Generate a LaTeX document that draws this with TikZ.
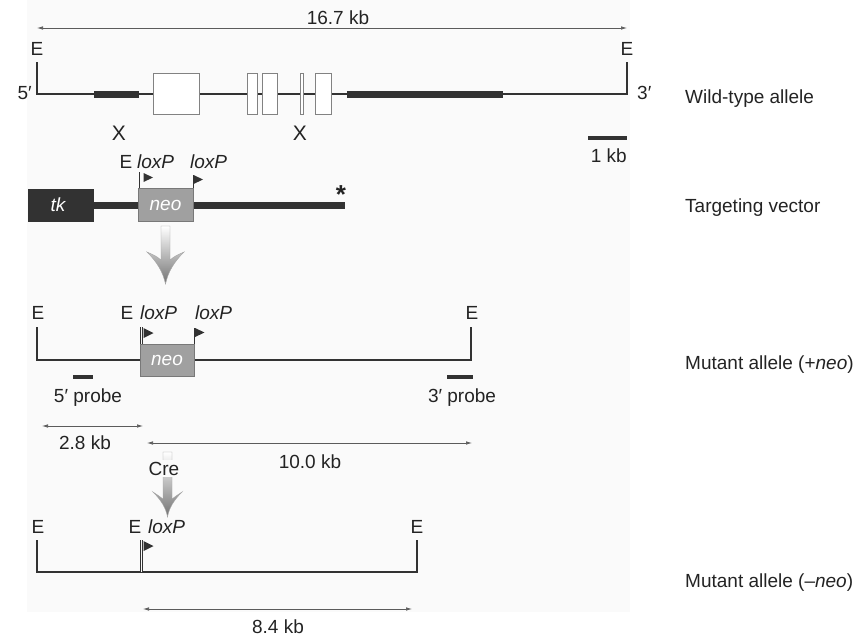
\documentclass[tikz,border=0pt]{standalone}
\usepackage{fontspec}
\setmainfont{Liberation Sans}
\usetikzlibrary{arrows.meta,positioning,calc}
\definecolor{DnaGrey}{RGB}{50,50,50}
\definecolor{TextGrey}{RGB}{35,35,35}
\definecolor{PanelGrey}{RGB}{250,250,250}
\definecolor{NeoGrey}{RGB}{160,160,160}
\definecolor{NeoEdge}{RGB}{120,120,120}
\definecolor{ExonEdge}{RGB}{130,130,130}
\tikzset{
  tag/.style={font=\fontsize{19}{22}\selectfont, text=TextGrey, inner sep=0pt, anchor=base},
  dna/.style={draw=DnaGrey, line width=2pt},
  vecline/.style={draw=DnaGrey, line width=7pt},
  exon/.style={draw=ExonEdge, fill=white, line width=0.8pt},
  tkbox/.style={fill=DnaGrey, minimum width=66pt, minimum height=33pt, inner sep=0pt,
    anchor=center, font=\fontsize{19}{22}\selectfont\itshape, text=white},
  neobox/.style={draw=NeoEdge, fill=NeoGrey, line width=0.8pt, minimum width=55pt,
    minimum height=33pt, inner sep=0pt, anchor=center,
    font=\fontsize{19}{22}\selectfont\itshape, text=white},
  dimarrow/.style={{Latex[length=6pt,width=3.5pt]}-{Latex[length=6pt,width=3.5pt]},
    draw=DnaGrey!80, line width=0.7pt},
  pole/.style={draw=DnaGrey, line width=0.7pt},
  dpole/.style={draw=DnaGrey, line width=0.6pt, double=PanelGrey, double distance=1.2pt},
  flagtip/.style={fill=DnaGrey},
  bigarrow/.style={top color=white, bottom color=black!55, draw=black!35, line width=0.4pt}
}

\begin{document}
\begin{tikzpicture}[x=1pt, y=-1pt]
\useasboundingbox (0,0) rectangle (863,637);
\fill[PanelGrey] (27,0) rectangle (630,612);

% wild-type allele
\node[tag] (wtE1) at (37,55) {E};
\node[tag] (wtE2) at (627,55) {E};
\node[tag, anchor=base east] (wt5) at (32,99) {5′};
\node[tag, anchor=base west] (wt3) at (637,99) {3′};
\coordinate (wtL) at (37,94);
\coordinate (wtR) at (627,94);
\draw[dna] ([yshift=-7pt]wtE1.south) -- (wtL) -- (wtR) -- ([yshift=-7pt]wtE2.south);
\fill[DnaGrey] (94,90.5) rectangle (139,97.5);
\fill[DnaGrey] (347,90.5) rectangle (503,97.5);
\draw[exon] (153,73) rectangle (199,114);
\draw[exon] (247,73) rectangle (257,114);
\draw[exon] (262,73) rectangle (277,114);
\draw[exon] (300,73) rectangle (303,114);
\draw[exon] (315,73) rectangle (331,114);
\node[tag, font=\fontsize{21}{22}\selectfont] (x1) at (119,140) {X};
\node[tag, font=\fontsize{21}{22}\selectfont] (x2) at (300,140) {X};
\node[tag] (wtsize) at (338,24.5) {16.7 kb};
\coordinate (wtA) at (37,28);
\coordinate (wtB) at (627,28);
\draw[dimarrow] (wtA) -- (wtB);
\fill[DnaGrey] (588,135.5) rectangle (627,139.5);
\node[tag, anchor=base east] (scale) at (627,162) {1 kb};
\node[tag, anchor=base west] (wtname) at (685,103) {Wild-type allele};

% targeting vector
\node[tkbox] (tk) at (61,205) {\hspace*{-6pt}tk};
\coordinate (vecend) at (345,205);
\draw[vecline] (tk.east) -- (vecend);
\node[neobox] (neoV) at (165.5,205) {neo};
\node[tag] (tvE) at (126,168) {E};
\node[tag, anchor=base west] (tvlox1) at (137,168) {\itshape loxP};
\node[tag, anchor=base west] (tvlox2) at (190,168) {\itshape loxP};
\draw[dpole] ([xshift=2.5pt]neoV.north west) -- ++(0,-16);
\fill[flagtip] (143.5,173) -- (153,177.5) -- (143.5,182) -- cycle;
\draw[pole] (neoV.north east) -- ++(0,-13);
\fill[flagtip] (193.5,175) -- (203,179.5) -- (193.5,184) -- cycle;
\node[tag, font=\fontsize{26}{26}\selectfont\bfseries] (star) at (341,203) {*};
\node[tag, anchor=base west] (tvname) at (685,212) {Targeting vector};
\shade[bigarrow] (161,226) -- (161,260) .. controls (156,256) .. (147,252)
  .. controls (157,262) and (163,272) .. (165.5,284)
  .. controls (168,272) and (174,262) .. (184,252)
  .. controls (175,256) .. (170,260) -- (170,226) -- cycle;

% mutant allele (+neo)
\node[tag] (pnE1) at (38,319) {E};
\node[tag] (pnE2) at (127,319) {E};
\node[tag] (pnE3) at (472,319) {E};
\node[tag, anchor=base west] (pnlox1) at (140,319) {\itshape loxP};
\node[tag, anchor=base west] (pnlox2) at (195,319) {\itshape loxP};
\coordinate (pnL) at (37,360);
\coordinate (pnR) at (471,360);
\draw[dna] ([yshift=-8pt]pnE1.south -| pnL) -- (pnL) -- (pnR) -- ([yshift=-8pt]pnE3.south -| pnR);
\node[neobox, minimum width=54pt, minimum height=32pt] (neoP) at (167,360) {neo};
\draw[dpole] ([xshift=2pt]neoP.north west) -- ++(0,-17);
\fill[flagtip] (143.5,328) -- (153.5,333) -- (143.5,338) -- cycle;
\draw[pole] (neoP.north east) -- ++(0,-16);
\fill[flagtip] (195,328) -- (204.5,332.5) -- (195,337) -- cycle;
\fill[DnaGrey] (73,374.5) rectangle (93,379);
\fill[DnaGrey] (447,374.5) rectangle (473,379);
\node[tag] (probe5) at (88,402) {5′ probe};
\node[tag] (probe3) at (462,402) {3′ probe};
\coordinate (d28a) at (42,426);
\coordinate (d28b) at (143,426);
\draw[dimarrow] (d28a) -- (d28b);
\node[tag] (d28) at (85,449) {2.8 kb};
\coordinate (d100a) at (147,443);
\coordinate (d100b) at (472,443);
\draw[dimarrow] (d100a) -- (d100b);
\node[tag] (d100) at (310,468) {10.0 kb};
\node[tag, anchor=base west] (pnname) at (685,369) {Mutant allele (+\textit{neo})};

% Cre excision
\shade[bigarrow] (163,452) -- (163,499) .. controls (159,496) .. (153,492)
  .. controls (161,500) and (166,508) .. (167.5,517)
  .. controls (169,508) and (174,500) .. (182,492)
  .. controls (176,496) .. (172,499) -- (172,452) -- cycle;
\node[tag, fill=PanelGrey, inner ysep=1.5pt, inner xsep=0pt] (cre) at (164,475) {Cre};

% mutant allele (-neo)
\node[tag] (mnE1) at (38,533) {E};
\node[tag] (mnE2) at (135,533) {E};
\node[tag] (mnE3) at (417,533) {E};
\node[tag, anchor=base west] (mnlox) at (148,533) {\itshape loxP};
\coordinate (mnL) at (37,572);
\coordinate (mnR) at (417,572);
\draw[dna] ([yshift=-7pt]mnE1.south -| mnL) -- (mnL) -- (mnR) -- ([yshift=-7pt]mnE3.south -| mnR);
\coordinate (mnsite) at (141.5,572);
\draw[dpole] (mnsite) -- ++(0,-32);
\fill[flagtip] (143.5,541) -- (153.5,546) -- (143.5,551) -- cycle;
\coordinate (d84a) at (143,609);
\coordinate (d84b) at (412,609);
\draw[dimarrow] (d84a) -- (d84b);
\node[tag] (d84) at (278,633) {8.4 kb};
\node[tag, anchor=base west] (mnname) at (685,587) {Mutant allele (–\textit{neo})};
\end{tikzpicture}
\end{document}
